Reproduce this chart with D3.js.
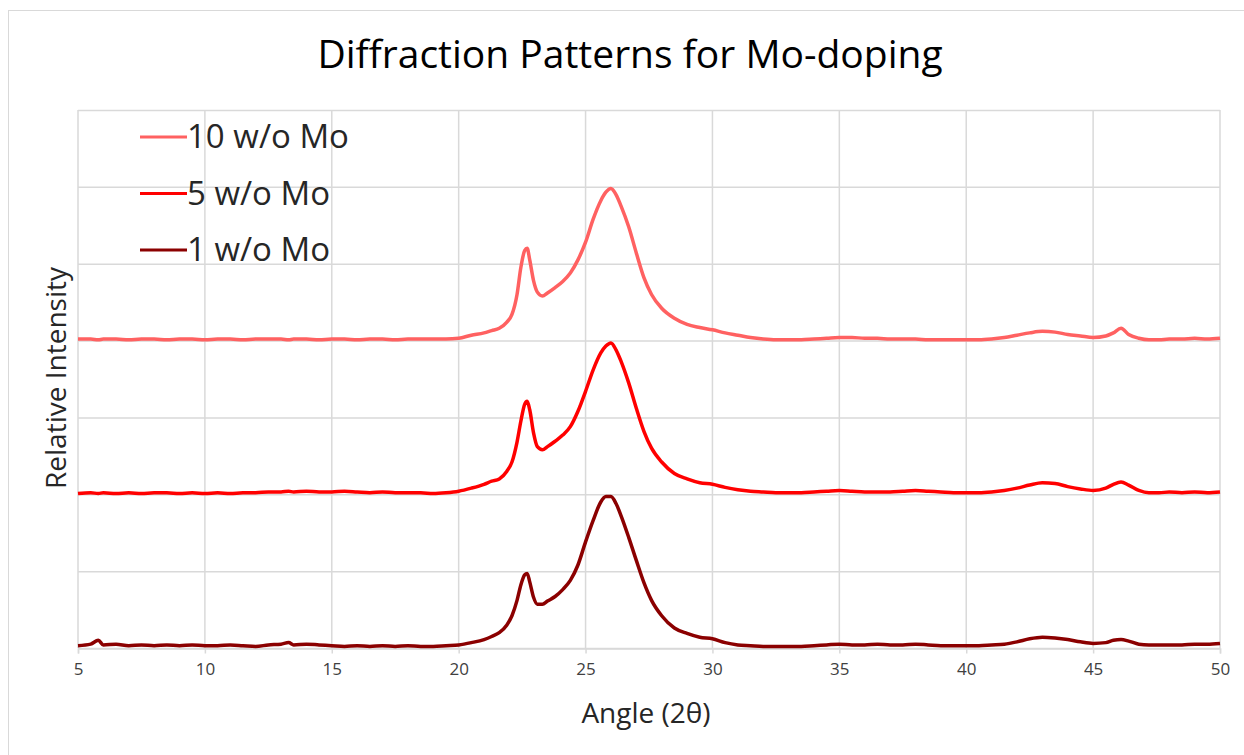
<!DOCTYPE html>
<html>
<head>
<meta charset="utf-8">
<script src="https://cdn.jsdelivr.net/npm/d3@7"></script>
<style>
    body { margin: 0; background: #fff; }
    text { font-family: "Open Sans", Lato, sans-serif; }
</style>
</head>
<body>
<div class="svg-container"></div>
<script>
// Angles (2 theta) shared by all three scans
const ANGLES = [
    5, 5.5, 5.8, 6, 6.5, 7, 7.5, 8, 8.5, 9, 9.5, 10, 10.5, 11, 11.5, 12, 12.5, 13, 13.3, 13.5,
    14, 14.5, 15, 15.5, 16, 16.5, 17, 17.5, 18, 18.5, 19, 19.5, 20, 20.5, 21, 21.3, 21.6, 21.9,
    22.1, 22.3, 22.45, 22.6, 22.7, 22.8, 22.95, 23.1, 23.3, 23.5, 23.8, 24.1, 24.4, 24.7, 25.0,
    25.3, 25.6, 25.8, 26.0, 26.2, 26.4, 26.7, 27.0, 27.3, 27.6, 28.0, 28.5, 29, 29.5, 30, 30.5,
    31, 31.5, 32, 32.5, 33, 33.5, 34, 34.5, 35, 35.5, 36, 36.5, 37, 37.5, 38, 38.5, 39, 39.5,
    40, 40.5, 41, 41.5, 42, 42.5, 43, 43.5, 44, 44.5, 45, 45.5, 45.8, 46.1, 46.4, 46.8, 47.2,
    47.6, 48, 48.5, 49, 49.5, 50
];

// Relative intensity as plotted (stacked offsets already included)
const MO_1 = [
    0.03, 0.05, 0.10, 0.04, 0.05, 0.03, 0.04, 0.03, 0.04, 0.03, 0.04, 0.03, 0.03, 0.04, 0.03, 0.02, 0.04, 0.05, 0.07, 0.04,
    0.05, 0.04, 0.03, 0.02, 0.03, 0.02, 0.03, 0.02, 0.03, 0.02, 0.02, 0.03, 0.04, 0.07, 0.11, 0.15, 0.20, 0.30,
    0.42, 0.62, 0.82, 0.95, 0.97, 0.86, 0.66, 0.57, 0.57, 0.61, 0.67, 0.76, 0.88, 1.08, 1.38,
    1.66, 1.90, 1.97, 1.97, 1.88, 1.72, 1.44, 1.14, 0.85, 0.62, 0.42, 0.26, 0.19, 0.14, 0.12, 0.07,
    0.04, 0.03, 0.02, 0.02, 0.02, 0.02, 0.03, 0.04, 0.05, 0.04, 0.04, 0.05, 0.04, 0.04, 0.05, 0.04, 0.03, 0.03,
    0.03, 0.03, 0.04, 0.05, 0.08, 0.12, 0.14, 0.13, 0.11, 0.08, 0.06, 0.07, 0.10, 0.11, 0.09, 0.05, 0.04,
    0.04, 0.04, 0.04, 0.05, 0.05, 0.06
];
const MO_5 = [
    2.01, 2.02, 2.01, 2.02, 2.01, 2.02, 2.01, 2.02, 2.02, 2.01, 2.02, 2.01, 2.02, 2.01, 2.02, 2.02, 2.03, 2.03, 2.04, 2.03,
    2.04, 2.03, 2.03, 2.04, 2.03, 2.02, 2.03, 2.02, 2.02, 2.02, 2.01, 2.02, 2.04, 2.08, 2.13, 2.17, 2.20, 2.30,
    2.42, 2.68, 2.95, 3.17, 3.21, 3.10, 2.80, 2.62, 2.58, 2.62, 2.69, 2.77, 2.88, 3.08, 3.34,
    3.62, 3.84, 3.93, 3.97, 3.88, 3.73, 3.45, 3.12, 2.82, 2.60, 2.42, 2.27, 2.20, 2.15, 2.13, 2.09,
    2.06, 2.04, 2.03, 2.02, 2.02, 2.02, 2.03, 2.04, 2.05, 2.04, 2.03, 2.03, 2.03, 2.04, 2.05, 2.04, 2.03, 2.02,
    2.02, 2.02, 2.03, 2.05, 2.08, 2.12, 2.15, 2.14, 2.10, 2.07, 2.05, 2.08, 2.13, 2.16, 2.12, 2.05, 2.02,
    2.02, 2.03, 2.02, 2.03, 2.02, 2.03
];
const MO_10 = [
    4.02, 4.02, 4.01, 4.02, 4.02, 4.01, 4.02, 4.02, 4.01, 4.02, 4.02, 4.01, 4.02, 4.02, 4.01, 4.02, 4.02, 4.02, 4.01, 4.02,
    4.02, 4.01, 4.02, 4.02, 4.01, 4.02, 4.02, 4.01, 4.02, 4.02, 4.02, 4.02, 4.03, 4.07, 4.10, 4.13, 4.16, 4.24,
    4.34, 4.60, 4.95, 5.17, 5.20, 5.05, 4.78, 4.63, 4.58, 4.62, 4.69, 4.77, 4.88, 5.05, 5.28,
    5.58, 5.82, 5.93, 5.98, 5.90, 5.75, 5.48, 5.14, 4.82, 4.60, 4.42, 4.29, 4.21, 4.17, 4.14, 4.10,
    4.07, 4.04, 4.02, 4.01, 4.01, 4.01, 4.02, 4.03, 4.04, 4.04, 4.03, 4.03, 4.02, 4.02, 4.02, 4.01, 4.01, 4.01,
    4.01, 4.01, 4.02, 4.04, 4.07, 4.10, 4.12, 4.11, 4.08, 4.06, 4.04, 4.06, 4.10, 4.16, 4.08, 4.03, 4.01,
    4.01, 4.02, 4.02, 4.03, 4.02, 4.03
];

const SERIES_NAMES = ["10 w/o Mo", "5 w/o Mo", "1 w/o Mo"];
const SERIES_VALUES = [MO_10, MO_5, MO_1];
const SERIES_COLORS = ["#ff6161", "#ff0000", "#8b0000"];
const X_TICKS = [5, 10, 15, 20, 25, 30, 35, 40, 45, 50];
const Y_GRID = [0, 1, 2, 3, 4, 5, 6, 7];

function main() {
    const width = 1244;
    const height = 755;
    const plot = { left: 78, right: 1220, top: 110, bottom: 648 };

    const svg = d3.select(".svg-container").append("svg")
        .attr("width", width)
        .attr("height", height);

    // light frame round the chart
    svg.append("rect")
        .attr("x", 8.5).attr("y", 10.5)
        .attr("width", 1250).attr("height", 760)
        .attr("fill", "none")
        .attr("stroke", "#d9d9d9");

    const xScale = d3.scaleLinear().domain([5, 50]).range([plot.left, plot.right]);
    const yScale = d3.scaleLinear().domain([0, 7]).range([plot.bottom, plot.top]);

    // horizontal gridlines
    svg.append("g")
        .selectAll("line")
        .data(Y_GRID)
        .enter()
        .append("line")
        .attr("x1", plot.left).attr("x2", plot.right)
        .attr("y1", d => yScale(d) + 0.5).attr("y2", d => yScale(d) + 0.5)
        .attr("stroke", "#d9d9d9")
        .attr("stroke-width", 1.5);

    // vertical gridlines
    svg.append("g")
        .selectAll("line")
        .data(X_TICKS)
        .enter()
        .append("line")
        .attr("x1", d => xScale(d)).attr("x2", d => xScale(d))
        .attr("y1", plot.top).attr("y2", plot.bottom)
        .attr("stroke", "#d9d9d9")
        .attr("stroke-width", 1.5);

    // x-axis
    const xAxis = svg.append("g")
        .attr("transform", "translate(0," + (plot.bottom + 0.5) + ")")
        .call(d3.axisBottom(xScale).tickValues(X_TICKS).tickSize(5).tickPadding(9));
    xAxis.select(".domain").attr("stroke", "#d9d9d9").attr("stroke-width", 1.5);
    xAxis.selectAll(".tick line").attr("stroke", "#d9d9d9").attr("stroke-width", 1.5);
    xAxis.selectAll(".tick text")
        .attr("fill", "#404040")
        .style("font-size", "17px")
        .style("font-family", "'Open Sans', sans-serif");

    // the three scans
    const line = d3.line()
        .x((d, i) => xScale(ANGLES[i]))
        .y(d => yScale(d))
        .curve(d3.curveMonotoneX);

    svg.append("g")
        .selectAll("path")
        .data(SERIES_VALUES)
        .enter()
        .append("path")
        .attr("d", d => line(d))
        .attr("fill", "none")
        .attr("stroke", (d, i) => SERIES_COLORS[i])
        .attr("stroke-width", 3.5)
        .attr("stroke-linejoin", "round");

    // legend
    const legend = svg.append("g")
        .selectAll("g")
        .data(SERIES_NAMES)
        .enter()
        .append("g")
        .attr("transform", (d, i) => "translate(140," + (137 + i * 56.5) + ")");
    legend.append("line")
        .attr("x1", 0).attr("x2", 47)
        .attr("stroke", (d, i) => SERIES_COLORS[i])
        .attr("stroke-width", 3);
    legend.append("text")
        .attr("x", 47)
        .attr("y", 11)
        .attr("fill", "#262626")
        .style("font-size", "33px")
        .text(d => d);

    // titles
    svg.append("text")
        .attr("x", 630).attr("y", 68)
        .attr("text-anchor", "middle")
        .attr("fill", "#000")
        .style("font-size", "39px")
        .text("Diffraction Patterns for Mo-doping");

    svg.append("text")
        .attr("x", 646).attr("y", 723)
        .attr("text-anchor", "middle")
        .attr("fill", "#262626")
        .style("font-size", "28px")
        .text("Angle (2θ)");

    svg.append("text")
        .attr("transform", "translate(66,378) rotate(-90)")
        .attr("text-anchor", "middle")
        .attr("fill", "#262626")
        .style("font-size", "28px")
        .text("Relative Intensity");
}

main();
</script>
</body>
</html>
